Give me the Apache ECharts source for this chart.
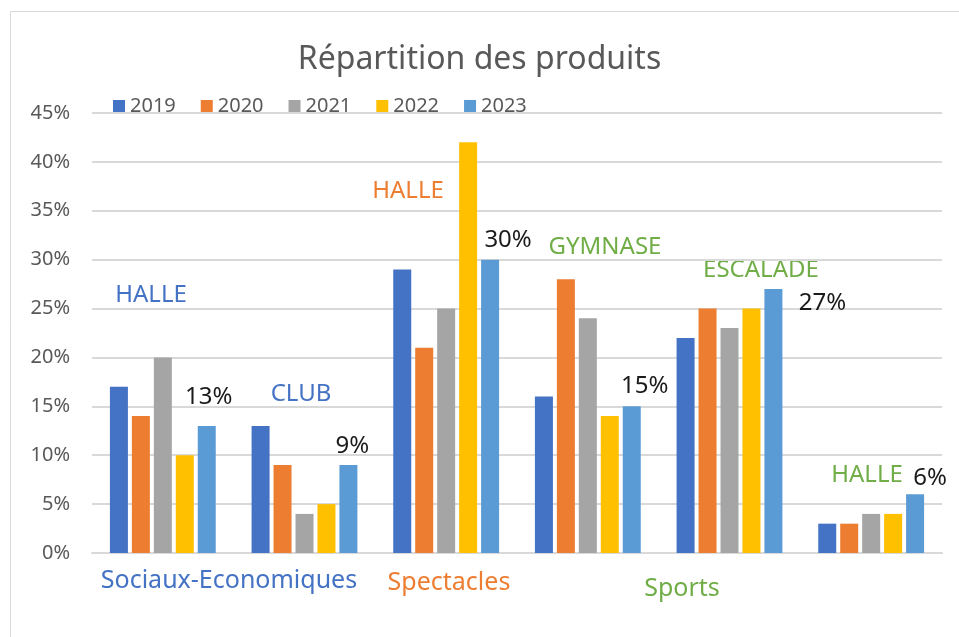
<!DOCTYPE html>
<html>
<head>
<meta charset="UTF-8">
<title>Répartition des produits</title>
<script src="https://cdn.jsdelivr.net/npm/echarts@6/dist/echarts.min.js"></script>
<style>
    html, body { margin: 0; padding: 0; background: #fff; }
    #chart { width: 959px; height: 637px; }
</style>
</head>
<body>
    <div id="chart"></div>
<script type="text/javascript">
    // données (en %)
    var categories = ['Halle SE', 'Club SE', 'Halle Spectacles', 'Gymnase', 'Escalade', 'Halle Sports'];
    var years = ['2019', '2020', '2021', '2022', '2023'];
    var v2019 = [17, 13, 29, 16, 22, 3];
    var v2020 = [14, 9, 21, 28, 25, 3];
    var v2021 = [20, 4, 25, 24, 23, 4];
    var v2022 = [10, 5, 42, 14, 25, 4];
    var v2023 = [13, 9, 30, 15, 27, 6];
    var yTicks = [0, 5, 10, 15, 20, 25, 30, 35, 40, 45];

    var siteNames = ['HALLE', 'CLUB', 'HALLE', 'GYMNASE', 'ESCALADE', 'HALLE'];
    var groupNames = ['Sociaux-Economiques', 'Spectacles', 'Sports'];

    var colors = ['#4472C4', '#ED7D31', '#A5A5A5', '#FFC000', '#5B9BD5'];
    var blue = '#4472C4', orange = '#ED7D31', green = '#70AD47';
    var font = '"Noto Sans", sans-serif';

    var myChart = echarts.init(document.getElementById('chart'));

    // décalage des étiquettes 2023 (placées à la main dans Excel)
    var labelOffsets = [[2, -12], [4, -2], [18, -3], [13, -3], [49, 31], [15, 1]];
    var data2023 = v2023.map(function (v, i) {
        return { value: v, label: { offset: labelOffsets[i] } };
    });

    var allValues = [v2019, v2020, v2021, v2022, v2023];
    var series = years.map(function (y, i) {
        return {
            name: y,
            type: 'bar',
            barWidth: 18,
            barGap: '22%',
            data: i === 4 ? data2023 : allValues[i],
            label: i === 4 ? {
                show: true,
                position: 'top',
                formatter: '{c}%',
                color: '#1a1a1a',
                fontSize: 24,
                fontFamily: font
            } : { show: false }
        };
    });

    // étiquettes de sites et de familles
    var siteColors = [blue, blue, orange, green, green, green];
    var sitePos = [[151, 295], [301, 394], [408, 191], [605, 247], [761, 270], [867, 475]];
    var groupColors = [blue, orange, green];
    var groupPos = [[229, 581], [449, 583], [682, 589]];

    var texts = [];
    siteNames.forEach(function (s, i) {
        texts.push({
            type: 'text', x: sitePos[i][0], y: sitePos[i][1],
            style: { text: s, fill: siteColors[i], font: '24px ' + font, textAlign: 'center', textVerticalAlign: 'middle' }
        });
    });
    groupNames.forEach(function (g, i) {
        texts.push({
            type: 'text', x: groupPos[i][0], y: groupPos[i][1],
            style: { text: g, fill: groupColors[i], font: '25px ' + font, textAlign: 'center', textVerticalAlign: 'middle' }
        });
    });
    texts.push({
        type: 'rect', shape: { x: 10.5, y: 11.5, width: 960, height: 640 },
        style: { fill: 'none', stroke: '#d9d9d9', lineWidth: 1 }, z: -10
    });

    var option = {
        backgroundColor: '#fff',
        color: colors,
        animation: false,
        title: {
            text: 'Répartition des produits',
            left: 'center',
            top: 39,
            textStyle: { color: '#595959', fontSize: 32, fontWeight: 'normal', fontFamily: font }
        },
        legend: {
            left: 108,
            top: 91,
            itemWidth: 12,
            itemHeight: 12,
            itemGap: 25,
            icon: 'rect',
            textStyle: { color: '#595959', fontSize: 20, fontFamily: font },
            data: years
        },
        grid: { left: 92, right: 17, top: 113, bottom: 84 },
        xAxis: {
            type: 'category',
            data: categories,
            axisLine: { show: true, lineStyle: { color: '#d9d9d9', width: 2 } },
            axisTick: { show: false },
            axisLabel: { show: false }
        },
        yAxis: {
            type: 'value',
            min: yTicks[0],
            max: yTicks[yTicks.length - 1],
            interval: 5,
            axisLine: { show: false },
            axisTick: { show: false },
            axisLabel: { formatter: '{value}%', color: '#595959', fontSize: 20, fontFamily: font, margin: 22 },
            splitLine: { lineStyle: { color: '#d9d9d9', width: 2 } }
        },
        graphic: texts,
        series: series
    };
    myChart.setOption(option);
</script>
</body>
</html>
